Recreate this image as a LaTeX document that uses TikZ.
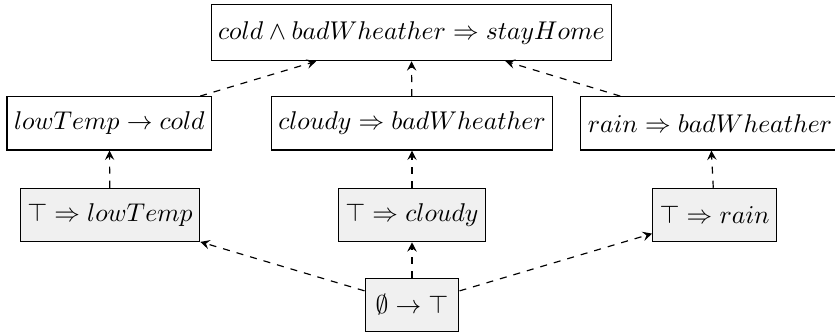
\documentclass[tikz,border=0pt]{standalone}
\usepackage{amsmath,amssymb}
\usepackage{tikz}
\usetikzlibrary{arrows.meta,positioning,calc}
\definecolor{inkBlack}{RGB}{0, 0, 0}
\definecolor{factGray}{RGB}{240, 240, 240}

\begin{document}
\begin{tikzpicture}[
    rulebox/.style={draw=inkBlack, fill=white, line width=0.5pt, minimum height=0.8cm, inner xsep=3pt, font=\fontsize{11pt}{13pt}\selectfont},
    factbox/.style={rulebox, fill=factGray},
    dep/.style={draw=inkBlack, dashed, line width=0.5pt, -{Stealth[length=4pt, width=4pt, inset=1.5pt]}}
]
    \useasboundingbox (0,0) rectangle (12.525,5.01);
    % goal
    \node[rulebox, minimum height=0.84cm] (goal) at (6.17,4.52) {$cold \wedge badWheather \Rightarrow stayHome$};
    % derived rules
    \node[rulebox] (lowCold) at (1.64,3.16) {$lowTemp \rightarrow cold$};
    \node[rulebox] (cloudyBad) at (6.18,3.16) {$cloudy \Rightarrow badWheather$};
    \node[rulebox] (rainBad) at (10.65,3.16) {$rain \Rightarrow badWheather$};
    % facts
    \node[factbox] (factLow) at (1.65,1.785) {$\top \Rightarrow lowTemp$};
    \node[factbox] (factCloudy) at (6.18,1.785) {$\top \Rightarrow cloudy$};
    \node[factbox] (factRain) at (10.72,1.785) {$\top \Rightarrow rain$};
    % root
    \node[factbox, inner xsep=4.5pt] (root) at (6.18,0.435) {$\emptyset \rightarrow \top$};

    \draw[dep] (lowCold) -- (goal);
    \draw[dep] (cloudyBad) -- (goal);
    \draw[dep] (rainBad) -- (goal);
    \draw[dep] (factLow) -- (lowCold);
    \draw[dep] (factCloudy) -- (cloudyBad);
    \draw[dep] (factRain) -- (rainBad);
    \draw[dep] (root) -- (factLow);
    \draw[dep] (root) -- (factCloudy);
    \draw[dep] (root) -- (factRain);
\end{tikzpicture}
\end{document}
